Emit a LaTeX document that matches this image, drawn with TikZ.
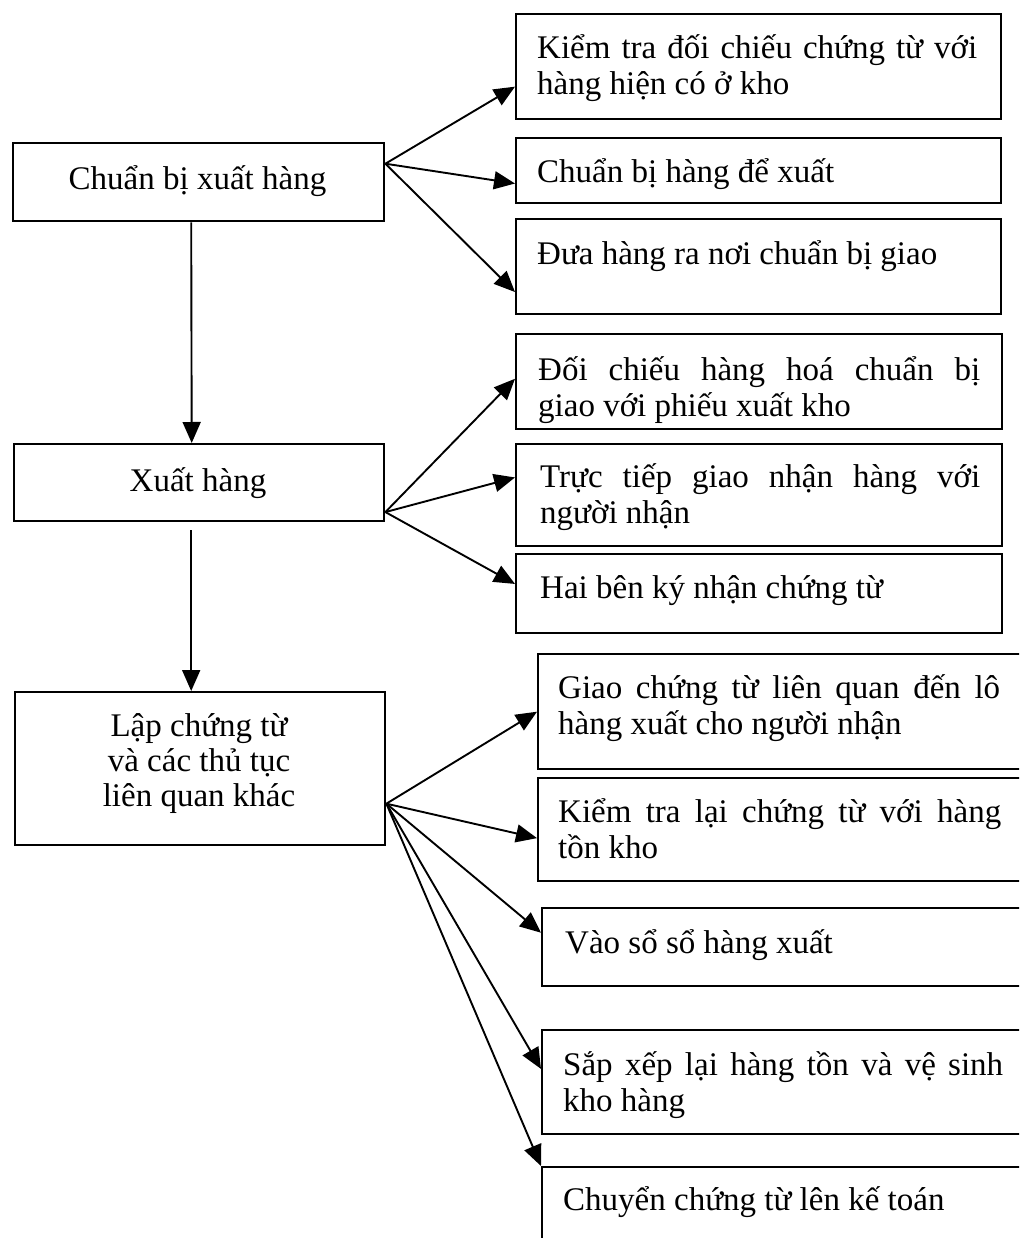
\documentclass[tikz,border=0pt]{standalone}
\usepackage{fontspec}
\setmainfont{Liberation Serif}
\usetikzlibrary{arrows.meta,calc}
% a line stretched to the full width of the surrounding paragraph
\newcommand{\jline}[1]{\makebox[\linewidth][s]{#1}}
\begin{document}
\begin{tikzpicture}[x=1pt,y=-1pt,
  box/.style={draw, line width=2.4pt, inner sep=0pt, anchor=north west},
  txt/.style={anchor=base west, inner sep=0pt, font=\fontsize{33}{36}\selectfont},
  ctr/.style={anchor=base, inner sep=0pt, font=\fontsize{33}{36}\selectfont, align=center},
  arr/.style={line width=1.9pt, -{Triangle[length=21pt,width=18pt]}},
]
\useasboundingbox (0,0) rectangle (1019,1238);
\clip (0,0) rectangle (1019,1238);

% main steps (left column)
\node[box, minimum width=371pt, minimum height=78pt]  (A) at (12,142) {};
\node[box, minimum width=370pt, minimum height=77pt]  (B) at (13,443) {};
\node[box, minimum width=370pt, minimum height=153pt] (C) at (14,691) {};

\node[ctr] (tA) at (197.5,190) {Chuẩn bị xuất hàng};
\node[ctr] (tB) at (198,491) {Xuất hàng};
\node[ctr] (tC1) at (199,736) {Lập chứng từ};
\node[ctr] (tC2) at (199,771) {và các thủ tục};
\node[ctr] (tC3) at (199,806) {liên quan khác};

% sub-tasks (right column)
\node[box, minimum width=485pt, minimum height=105pt] (r1)  at (515,13)   {};
\node[box, minimum width=485pt, minimum height=65pt]  (r2)  at (515,137)  {};
\node[box, minimum width=485pt, minimum height=95pt]  (r3)  at (515,218)  {};
\node[box, minimum width=486pt, minimum height=95pt]  (r4)  at (515,333)  {};
\node[box, minimum width=486pt, minimum height=102pt] (r5)  at (515,443)  {};
\node[box, minimum width=486pt, minimum height=79pt]  (r6)  at (515,553)  {};
\node[box, minimum width=500pt, minimum height=115pt] (r7)  at (537,653)  {};
\node[box, minimum width=500pt, minimum height=103pt] (r8)  at (537,777)  {};
\node[box, minimum width=500pt, minimum height=78pt]  (r9)  at (541,907)  {};
\node[box, minimum width=500pt, minimum height=104pt] (r10) at (541,1029) {};
\node[box, minimum width=500pt, minimum height=120pt] (r11) at (541,1166) {};

\node[txt] (t1) at (537,59) {\parbox[t]{440pt}{\jline{Kiểm tra đối chiếu chứng từ với}\\ hàng hiện có ở kho}};
\node[txt] (t2) at (537,183) {Chuẩn bị hàng để xuất};
\node[txt] (t3) at (537,265) {Đưa hàng ra nơi chuẩn bị giao};
\node[txt] (t4) at (538,380) {\parbox[t]{442pt}{\jline{Đối chiếu hàng hoá chuẩn bị}\\ giao với phiếu xuất kho}};
\node[txt] (t5) at (540,487) {\parbox[t]{440pt}{\jline{Trực tiếp giao nhận hàng với}\\ người nhận}};
\node[txt] (t6) at (540,598) {Hai bên ký nhận chứng từ};
\node[txt] (t7) at (558,698) {\parbox[t]{442pt}{\jline{Giao chứng từ liên quan đến lô}\\ hàng xuất cho người nhận}};
\node[txt] (t8) at (558,822) {\parbox[t]{443pt}{\jline{Kiểm tra lại chứng từ với hàng}\\ tồn kho}};
\node[txt] (t9) at (565,953) {Vào sổ sổ hàng xuất};
\node[txt] (t10) at (563,1075) {\parbox[t]{440pt}{\jline{Sắp xếp lại hàng tồn và vệ sinh}\\ kho hàng}};
\node[txt] (t11) at (563,1210) {Chuyển chứng từ lên kế toán};

% fan-out points on the right sides of the main steps
\coordinate (oA) at ($(A.north east)!0.27!(A.south east)$);
\coordinate (oB) at ($(B.north east)!0.87!(B.south east)$);
\coordinate (oC) at ($(C.north east)!0.725!(C.south east)$);

% flow between main steps
\draw[arr] ([xshift=-7.5pt]A.south) -- ([xshift=-7.5pt]B.north);
\draw[arr] ([xshift=-8pt,yshift=-8pt]B.south) -- ([xshift=-9pt]C.north);

% main step -> sub-tasks
\draw[arr] (oA) -- ($(r1.north west)!0.686!(r1.south west)$);
\draw[arr] (oA) -- ($(r2.north west)!0.69!(r2.south west)$);
\draw[arr] (oA) -- ($(r3.north west)!0.76!(r3.south west)$);
\draw[arr] (oB) -- ($(r4.north west)!0.47!(r4.south west)$);
\draw[arr] (oB) -- ($(r5.north west)!0.33!(r5.south west)$);
\draw[arr] (oB) -- ($(r6.north west)!0.38!(r6.south west)$);
\draw[arr] (oC) -- ($(r7.north west)!0.50!(r7.south west)$);
\draw[arr] (oC) -- ($(r8.north west)!0.58!(r8.south west)$);
\draw[arr] (oC) -- ($(r9.north west)!0.32!(r9.south west)$);
\draw[arr] (oC) -- ($(r10.north west)!0.375!(r10.south west)$);
\draw[arr] (oC) -- (r11.north west);
\end{tikzpicture}
\end{document}
